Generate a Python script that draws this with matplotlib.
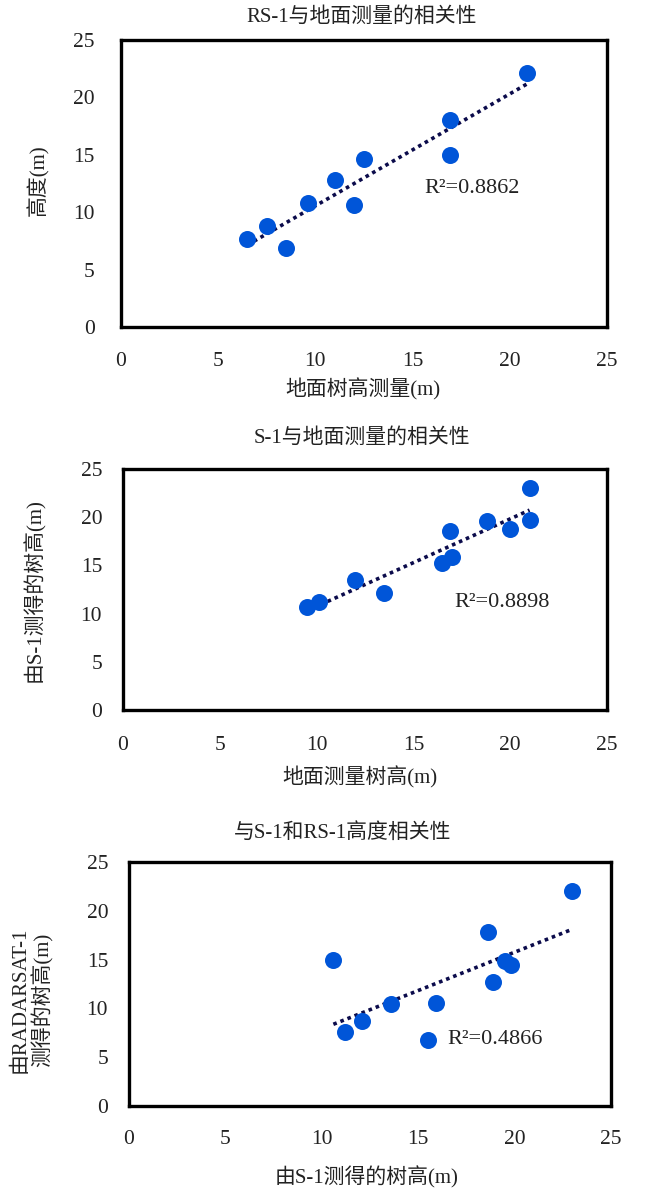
import numpy as np
from matplotlib import pyplot as plt

plt.rcParams['font.family'] = ['Liberation Serif', 'Noto Sans CJK SC']
plt.rcParams['axes.unicode_minus'] = False

# panel 1: RS-1 vs ground
ground_1 = [6.5, 7.5, 8.5, 9.6, 11.0, 12.0, 12.5, 16.9, 16.9, 20.9]
rs1_1 = [7.7, 8.8, 6.9, 10.8, 12.8, 10.6, 14.6, 18.0, 15.0, 22.1]

# panel 2: S-1 vs ground
ground_2 = [9.5, 10.1, 12.0, 13.5, 16.5, 17.0, 16.9, 18.8, 20.0, 21.0, 21.0]
s1_2 = [10.7, 11.2, 13.5, 12.1, 15.3, 15.9, 18.6, 19.6, 18.8, 23.0, 19.7]

# panel 3: RS-1 vs S-1
s1_3 = [10.6, 11.2, 12.1, 13.6, 15.9, 15.5, 18.6, 18.9, 19.5, 19.8, 23.0]
rs1_3 = [15.0, 7.6, 8.7, 10.4, 10.6, 6.8, 17.8, 12.7, 14.9, 14.4, 22.0]

r2_labels = ['R²=0.8862', 'R²=0.8898', 'R²=0.4866']
titles = ['RS-1与地面测量的相关性', 'S-1与地面测量的相关性', '与S-1和RS-1高度相关性']
xlabels = ['地面树高测量(m)', '地面测量树高(m)', '由S-1测得的树高(m)']
ylabels = ['高度(m)', '由S-1测得的树高(m)', '由RADARSAT-1\n测得的树高(m)']
ticks = [0, 5, 10, 15, 20, 25]

W, H = 667, 1191
fig = plt.figure(figsize=(W / 100, H / 100), dpi=100)

# pixel boxes (left, right, top, bottom)
boxes = [(121, 607, 40, 327), (123, 607, 469, 710), (129, 611, 862, 1106)]
title_pos = [(362, 17), (362, 438), (343, 833)]
xlab_pos = [(363, 389), (360, 777), (367, 1177)]
ylab_pos = [(38, 180), (34, 590), (32, 1000)]
r2_pos = [(15.6, 12.1), (17.1, 11.2), (16.5, 6.8)]
xpad = [18, 19, 17]
ypad = [19, 15, 15]

data = [(ground_1, rs1_1), (ground_2, s1_2), (s1_3, rs1_3)]

for i, (xs, ys) in enumerate(data):
    l, r, t, b = boxes[i]
    ax = fig.add_axes([l / W, 1 - b / H, (r - l) / W, (b - t) / H])
    ax.scatter(xs, ys, s=150, color='#0055d8', zorder=3, linewidths=0)
    k, c = np.polyfit(xs, ys, 1)
    fx = np.array([min(xs), max(xs)])
    ax.plot(fx, k * fx + c, color='#0b0b4b', lw=2.6, ls=(0, (1, 1.1)), zorder=2)
    ax.text(r2_pos[i][0], r2_pos[i][1], r2_labels[i], fontsize=16,
            va='center', ha='left', color='#222222')
    ax.set_xlim(0, 25)
    ax.set_ylim(0, 25)
    ax.set_xticks(ticks)
    ax.set_yticks(ticks)
    ax.tick_params(length=0, labelsize=15.5, labelcolor='#222222')
    ax.tick_params(axis='x', pad=xpad[i])
    ax.tick_params(axis='y', pad=ypad[i])
    for sp in ax.spines.values():
        sp.set_linewidth(2.4)
        sp.set_color('black')
    fig.text(title_pos[i][0] / W, 1 - title_pos[i][1] / H, titles[i],
             fontsize=15, ha='center', va='center', color='#222222')
    fig.text(xlab_pos[i][0] / W, 1 - xlab_pos[i][1] / H, xlabels[i],
             fontsize=15, ha='center', va='center', color='#222222')
    fig.text(ylab_pos[i][0] / W, 1 - ylab_pos[i][1] / H, ylabels[i],
             fontsize=15, ha='center', va='center', rotation=90,
             color='#222222', linespacing=1.05, multialignment='center')

fig.savefig('out.png', dpi=100)
